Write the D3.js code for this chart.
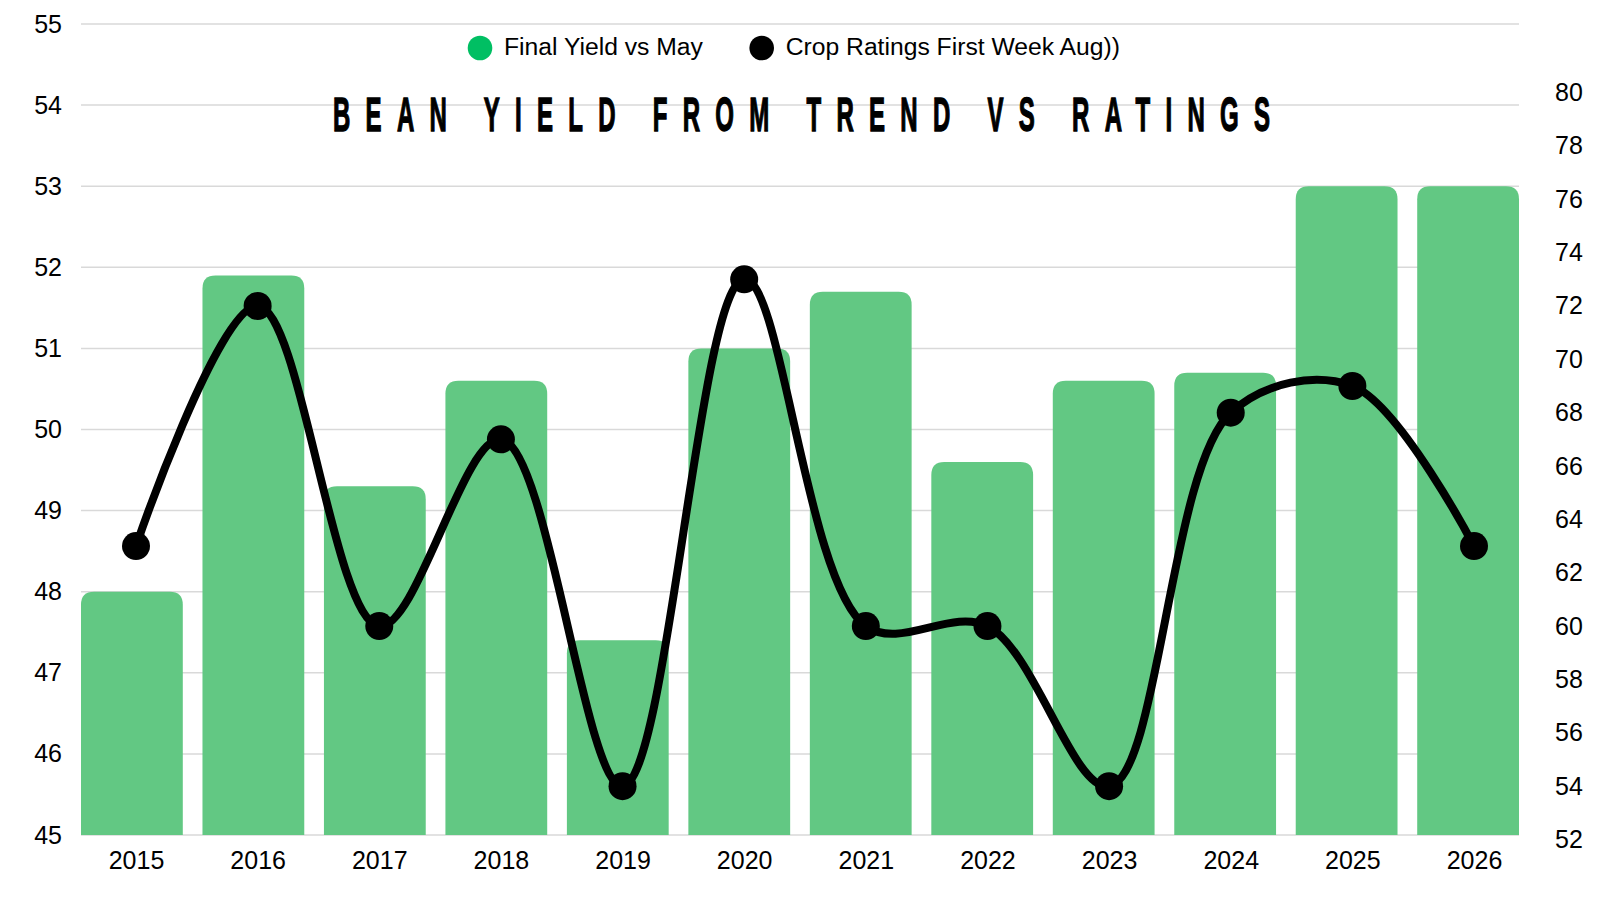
<!DOCTYPE html>
<html>
<head>
<meta charset="utf-8">
<script src="https://cdn.jsdelivr.net/npm/d3@7"></script>
<style>
  html, body { margin: 0; padding: 0; background: #ffffff; }
  svg { display: block; }
  text { font-family: "Liberation Sans", Arial, sans-serif; }
</style>
</head>
<body>
<svg id="chart" width="1600" height="900"></svg>
<script>
// ---- data ----
const years = ["2015","2016","2017","2018","2019","2020","2021","2022","2023","2024","2025","2026"];
const finalYield = [48.0, 51.9, 49.3, 50.6, 47.4, 51.0, 51.7, 49.6, 50.6, 50.7, 53.0, 53.0];
const cropRatings = [63, 72, 60, 67, 54, 73, 60, 60, 54, 68, 69, 63];
const leftTicks = [45, 46, 47, 48, 49, 50, 51, 52, 53, 54, 55];
const rightTicks = [52, 54, 56, 58, 60, 62, 64, 66, 68, 70, 72, 74, 76, 78, 80];
const seriesNames = ["Final Yield vs May", "Crop Ratings First Week Aug))"];
const titleText = "BEAN YIELD FROM TREND VS RATINGS";

// ---- layout ----
const plotLeft = 81, plotRight = 1519, plotTop = 24, plotBottom = 835;
const barColor = "#62C883", legendGreen = "#00BF63", gridColor = "#D9D9D9";
const labelSize = 25;

const svg = d3.select("#chart");

const x = d3.scaleBand().domain(years).range([plotLeft, plotRight]).paddingInner(0.162).paddingOuter(0);
const xPt = d3.scalePoint().domain(years).range([136, 1474]);
const yL = d3.scaleLinear().domain([45, 55]).range([plotBottom, plotTop]);
const yR = d3.scaleLinear().domain([52.17, 82.57]).range([plotBottom, plotTop]);

// grid
svg.append("g").selectAll("line").data(leftTicks).join("line")
  .attr("x1", plotLeft).attr("x2", plotRight)
  .attr("y1", d => yL(d)).attr("y2", d => yL(d))
  .attr("stroke", gridColor).attr("stroke-width", 1.5);

// left axis
const axL = d3.axisLeft(yL).tickValues(leftTicks).tickSize(0).tickPadding(0).tickFormat(d3.format("d"));
const gL = svg.append("g").attr("transform", `translate(${plotLeft - 19},0)`).call(axL);
gL.select(".domain").remove();
gL.selectAll("text").attr("font-size", labelSize).attr("fill", "#000").attr("font-family", "Liberation Sans, Arial, sans-serif");

// right axis
const axR = d3.axisRight(yR).tickValues(rightTicks).tickSize(0).tickPadding(0).tickFormat(d3.format("d"));
const gR = svg.append("g").attr("transform", `translate(1555,0)`).call(axR);
gR.select(".domain").remove();
gR.selectAll("text").attr("font-size", labelSize).attr("fill", "#000").attr("font-family", "Liberation Sans, Arial, sans-serif");

// bottom axis
const axB = d3.axisBottom(xPt).tickSize(0).tickPadding(0);
const gB = svg.append("g").attr("transform", `translate(0,${plotBottom + 16})`).call(axB);
gB.select(".domain").remove();
gB.selectAll("text").attr("font-size", labelSize).attr("fill", "#000").attr("font-family", "Liberation Sans, Arial, sans-serif");

// bars with rounded top corners
function topRounded(x0, y0, w, h, r) {
  r = Math.min(r, w / 2, h);
  return `M${x0},${y0 + h}V${y0 + r}Q${x0},${y0} ${x0 + r},${y0}H${x0 + w - r}Q${x0 + w},${y0} ${x0 + w},${y0 + r}V${y0 + h}Z`;
}
const barData = years.map((y, i) => ({ year: y, v: finalYield[i] }));
svg.append("g").selectAll("path").data(barData).join("path")
  .attr("d", d => topRounded(x(d.year), yL(d.v), x.bandwidth(), yL(45) - yL(d.v), 13))
  .attr("fill", barColor);

// line
const lineData = years.map((y, i) => ({ year: y, v: cropRatings[i] }));
const line = d3.line().x(d => xPt(d.year)).y(d => yR(d.v)).curve(d3.curveCatmullRom.alpha(0.5));
svg.append("path").datum(lineData).attr("d", line)
  .attr("fill", "none").attr("stroke", "#000").attr("stroke-width", 8).attr("stroke-linejoin", "round");
svg.append("g").selectAll("circle").data(lineData).join("circle")
  .attr("cx", d => xPt(d.year)).attr("cy", d => yR(d.v)).attr("r", 14).attr("fill", "#000");

// legend
const legend = svg.append("g");
const legendItems = [
  { name: seriesNames[0], color: legendGreen, cx: 480 },
  { name: seriesNames[1], color: "#000", cx: 761.7 }
];
legendItems.forEach(it => {
  legend.append("circle").attr("cx", it.cx).attr("cy", 48).attr("r", 12.3).attr("fill", it.color);
  legend.append("text").attr("x", it.cx + 24).attr("y", 46.5).attr("dy", "0.35em")
    .attr("font-size", 24.7).attr("fill", "#000").text(it.name);
});

// title
const sx = 0.5;
const tg = svg.append("g").attr("transform", `translate(801.5,130.7) scale(${sx},1)`);
tg.append("text")
  .attr("text-anchor", "middle")
  .attr("font-family", "Liberation Sans Narrow, DejaVu Sans Condensed, sans-serif")
  .attr("font-weight", "bold").attr("font-size", 48)
  .attr("fill", "#000").attr("stroke", "#000").attr("stroke-width", 1.4)
  .attr("textLength", 937 / sx).attr("lengthAdjust", "spacing")
  .text(titleText);
</script>
</body>
</html>
